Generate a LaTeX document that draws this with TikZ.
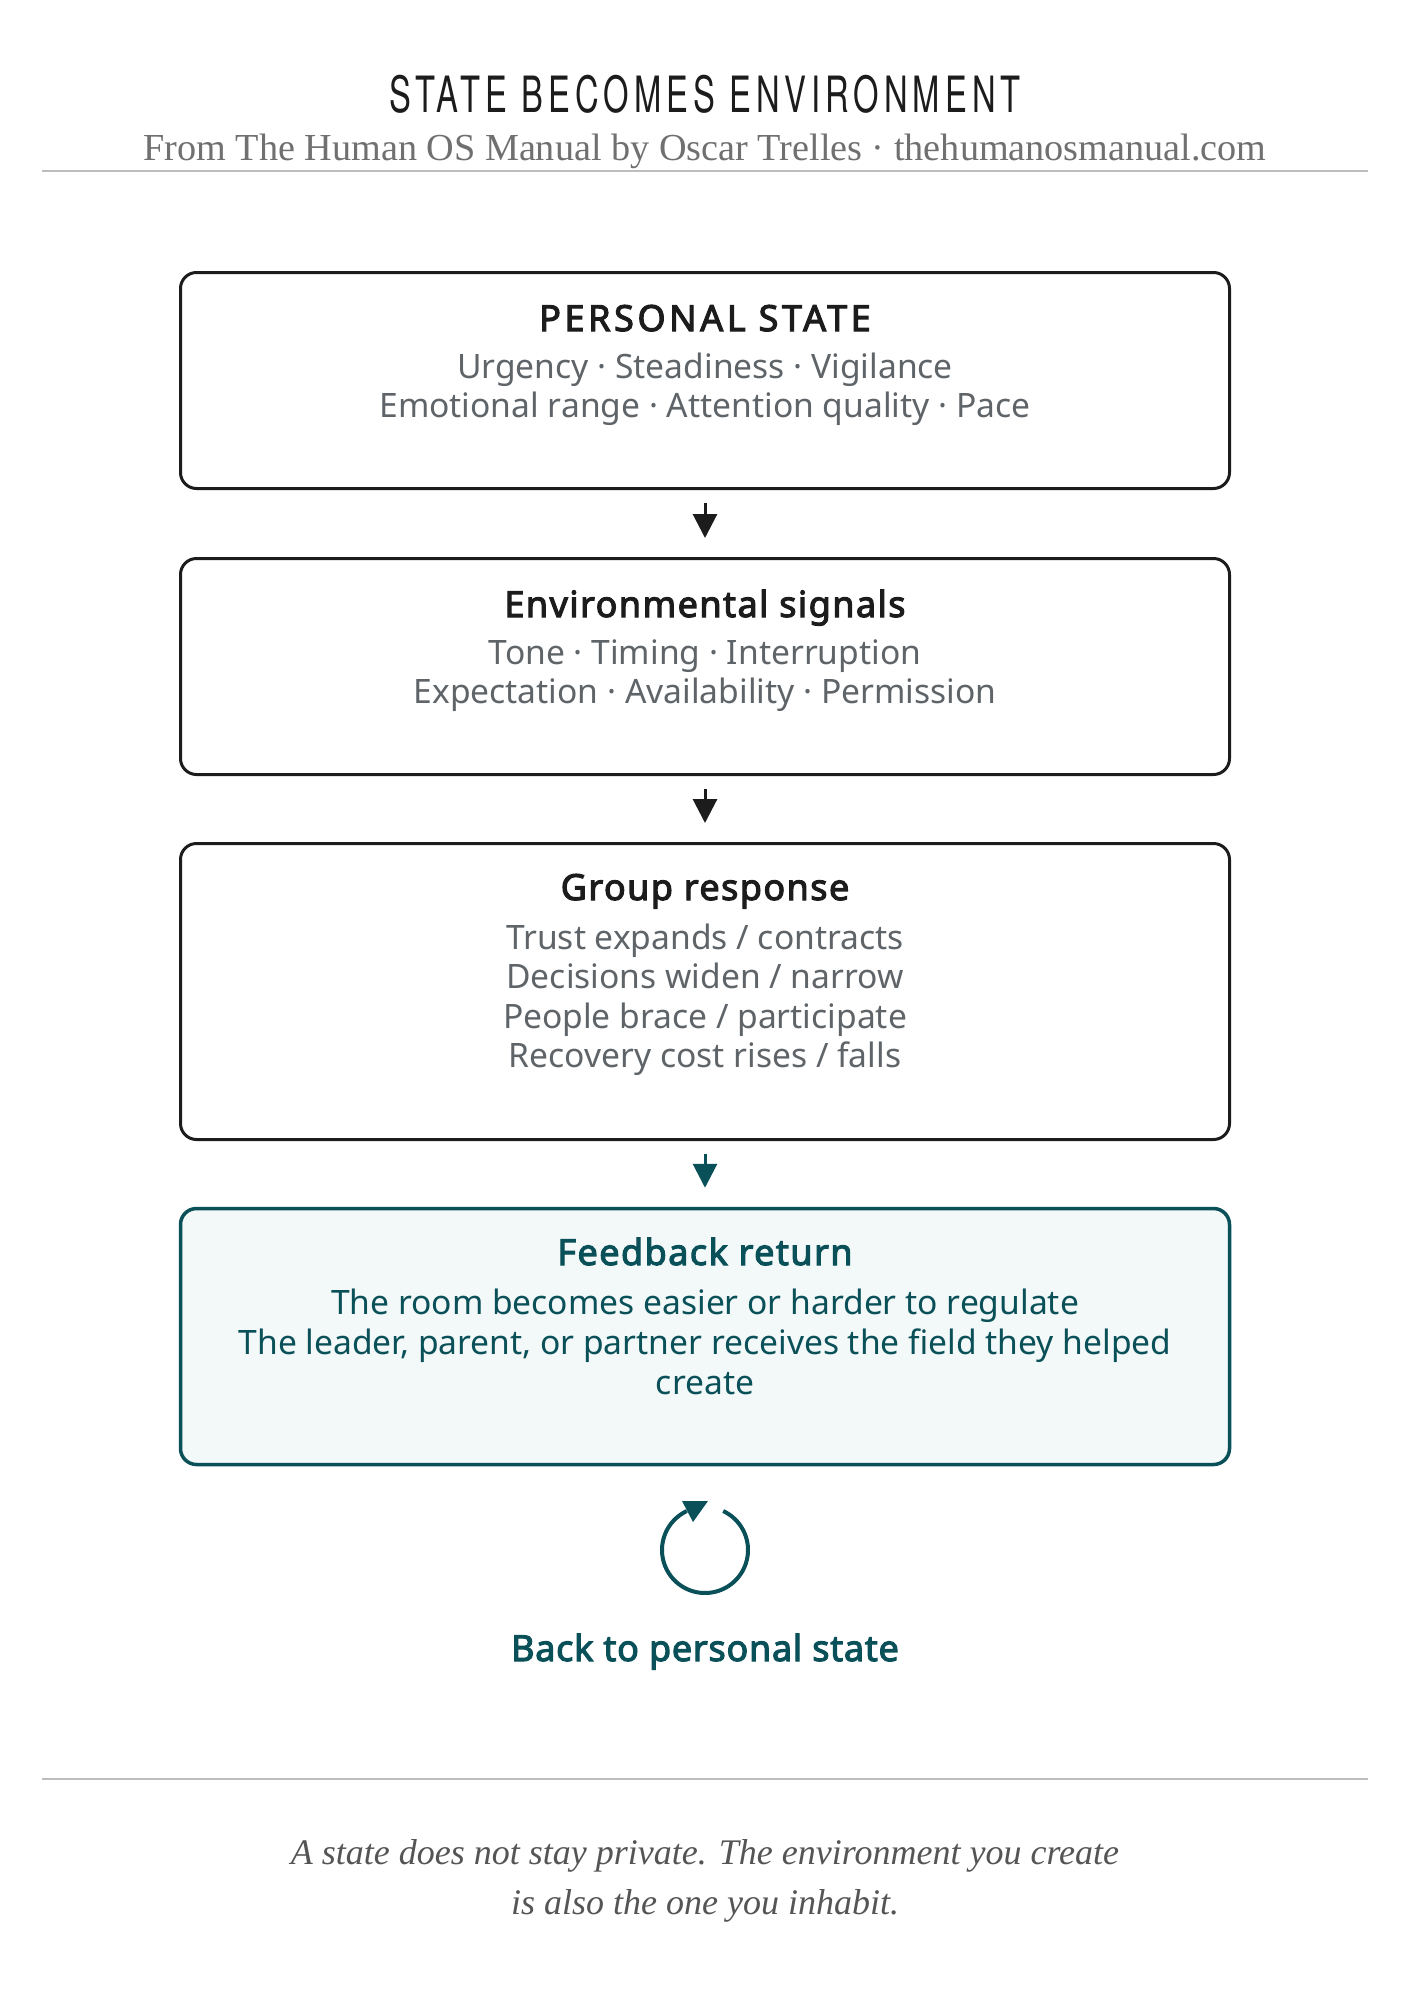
\documentclass[tikz,border=0pt]{standalone}
\usepackage{fontspec}
\setmainfont{Noto Sans}
\newfontfamily\titlefont[FakeStretch=0.655,LetterSpace=10]{TeX Gyre Heros}
\newfontfamily\headfont[LetterSpace=4,FakeBold=3]{Noto Sans}
\newfontfamily\capsfont[LetterSpace=10,FakeBold=3]{Noto Sans}
\newfontfamily\backfont[LetterSpace=2,FakeBold=3]{Noto Sans}
\newfontfamily\subfont{Liberation Serif}
\usetikzlibrary{arrows.meta}
\definecolor{inkdark}{HTML}{1C1C1C}
\definecolor{inkgray}{HTML}{5F6469}
\definecolor{teal}{HTML}{0A5058}
\definecolor{tealfill}{HTML}{F3F8F8}
\definecolor{rulegray}{HTML}{BDBDBD}
\definecolor{subgray}{HTML}{707070}
\definecolor{footgray}{HTML}{555555}
\tikzset{
  box/.style={draw=inkdark, line width=1.5pt, rounded corners=8pt, minimum width=524.5pt, inner sep=0pt},
  fbox/.style={draw=teal, fill=tealfill, line width=1.75pt, rounded corners=8pt, minimum width=524.5pt, inner sep=0pt},
  head/.style={anchor=base, inner sep=0pt, text=inkdark, font=\headfont\fontsize{18}{22}\selectfont},
  capshead/.style={head, font=\capsfont\fontsize{18}{22}\selectfont},
  thead/.style={head, text=teal},
  backlabel/.style={head, text=teal, font=\backfont\fontsize{18}{22}\selectfont},
  body/.style={anchor=base, inner sep=0pt, text=inkgray, font=\fontsize{16.8}{20}\selectfont},
  tbody/.style={body, text=teal},
  arr/.style={draw=inkdark, line width=1.5pt, -{Triangle[width=12pt,length=12pt]}, shorten <=6.5pt, shorten >=9.5pt},
  tarr/.style={arr, draw=teal, fill=teal},
  rulel/.style={draw=rulegray, line width=0.75pt},
  serifline/.style={anchor=base, inner sep=0pt},
}
\begin{document}
\begin{tikzpicture}[x=0.5pt,y=-0.5pt]
\useasboundingbox (0,0) rectangle (1410,1992);
\fill[white] (0,0) rectangle (1410,1992);
% header
\node[serifline, text=inkdark, font=\titlefont\fontsize{25}{30}\selectfont] (title) at (705,112) {STATE BECOMES ENVIRONMENT};
\node[serifline, text=subgray, font=\subfont\fontsize{19.1}{24}\selectfont] (subtitle) at (705,160) {From The Human OS Manual by Oscar Trelles · thehumanosmanual.com};
\coordinate (r1a) at (42,171); \coordinate (r1b) at (1368,171);
\draw[rulel] (r1a) -- (r1b);
% boxes
\node[box, minimum height=108pt] (b1) at (705,380.5) {};
\node[box, minimum height=108pt] (b2) at (705,666.5) {};
\node[box, minimum height=148pt] (b3) at (705,991.5) {};
\node[fbox, minimum height=128pt] (b4) at (705,1336.5) {};
% box texts
\node[capshead] (h1) at (705,331) {PERSONAL STATE};
\node[body] (t11) at (705,378) {Urgency · Steadiness · Vigilance};
\node[body] (t12) at (705,417) {Emotional range · Attention quality · Pace};
\node[head] (h2) at (705,617) {Environmental signals};
\node[body] (t21) at (705,664) {Tone · Timing · Interruption};
\node[body] (t22) at (705,703) {Expectation · Availability · Permission};
\node[head] (h3) at (705,900) {Group response};
\node[body] (t31) at (705,949) {Trust expands / contracts};
\node[body] (t32) at (705,988.5) {Decisions widen / narrow};
\node[body] (t33) at (705,1028) {People brace / participate};
\node[body] (t34) at (705,1067.5) {Recovery cost rises / falls};
\node[thead] (h4) at (705,1265) {Feedback return};
\node[tbody] (t41) at (705,1314) {The room becomes easier or harder to regulate};
\node[tbody] (t42) at (705,1354) {The leader, parent, or partner receives the field they helped};
\node[tbody] (t43) at (705,1394) {create};
% arrows
\draw[arr] (b1.south) -- (b2.north);
\draw[arr] (b2.south) -- (b3.north);
\draw[tarr] (b3.south) -- (b4.north);
% loop icon
\draw[teal, line width=2pt, line cap=butt] plot[smooth, domain=65:-245, samples=80] ({705+43*cos(\x)},{1550-43*sin(\x)});
\fill[teal] (682,1501) -- (708,1501) -- (693,1522) -- cycle;
\node[backlabel] (back) at (705,1661) {Back to personal state};
% footer
\coordinate (r2a) at (42,1779); \coordinate (r2b) at (1368,1779);
\draw[rulel] (r2a) -- (r2b);
\node[serifline, text=footgray, font=\subfont\itshape\fontsize{18}{24}\selectfont] (f1) at (705,1864) {A state does not stay private. The environment you create};
\node[serifline, text=footgray, font=\subfont\itshape\fontsize{18}{24}\selectfont] (f2) at (705,1914) {is also the one you inhabit.};
\end{tikzpicture}
\end{document}
